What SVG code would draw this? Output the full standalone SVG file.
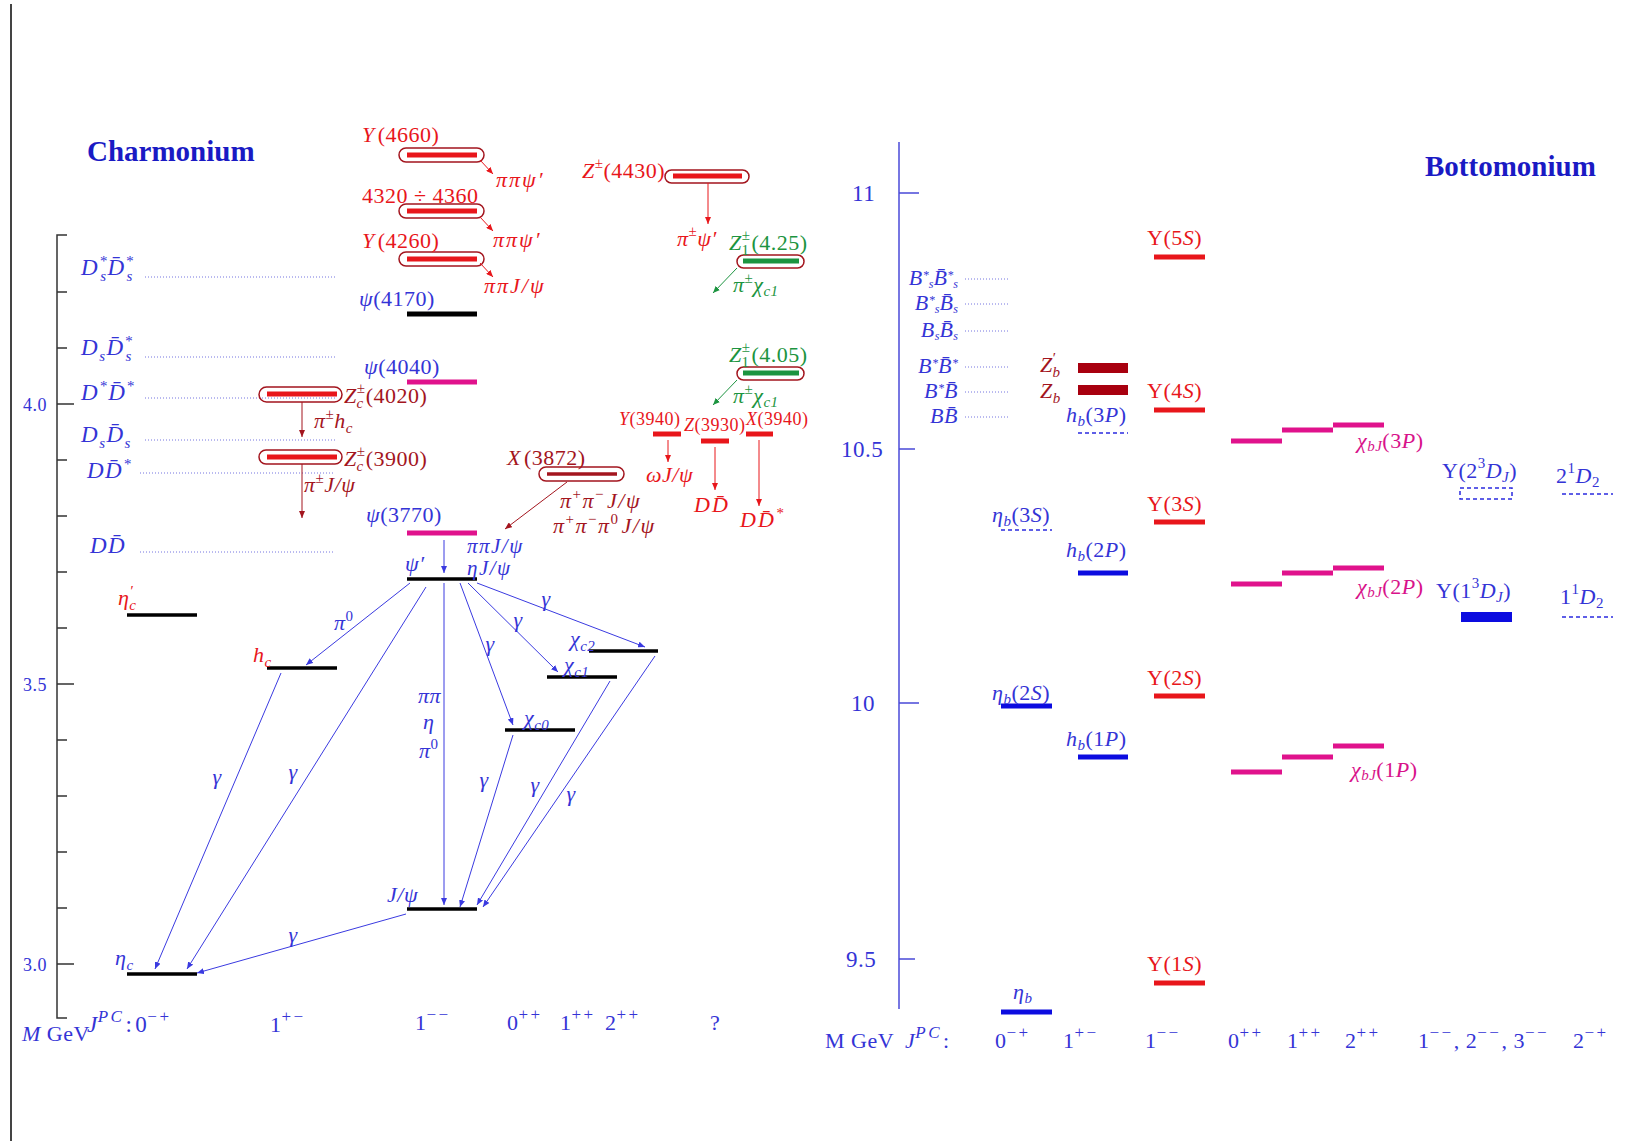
<svg xmlns="http://www.w3.org/2000/svg" width="1638" height="1141" viewBox="0 0 1638 1141">
<style>
text { font-family: "Liberation Serif", "DejaVu Serif", serif; font-size: 22px; letter-spacing: 0.5px; fill: #3434d6; }
.i { font-style: italic; }
.n { font-style: normal; }
.sm { font-size: 18px; }
.s { font-size: 15px; }
.t { font-size: 12px; letter-spacing: 0; }
.ss { font-size: 17px; letter-spacing: 2.5px; }
.ttl { font-weight: bold; font-size: 29px; letter-spacing: 0; fill: #1a1ac4; }
.ax { font-size: 18px; }
.axb { font-size: 23px; }
.red { fill: #e8161b; }
.dred { fill: #a3151e; }
.grn { fill: #1c9440; }
.mag { fill: #d8128a; }
.blk { stroke: #000; stroke-width: 3.5; }
.barR { stroke: #e8161b; stroke-width: 5; }
.barM { stroke: #e0128c; stroke-width: 5; }
.barG { stroke: #1c9440; stroke-width: 5; }
.barB { stroke: #0c0ce0; stroke-width: 5; }
.barZ { stroke: #a8000f; stroke-width: 10; }
.dash { stroke: #2a2ae0; stroke-width: 1.5; stroke-dasharray: 4 3; fill: none; }
.box { fill: none; stroke: #a3151e; stroke-width: 1.5; }
.dot { stroke: #7474e0; stroke-width: 1; stroke-dasharray: 1 2; }
.ab { stroke: #3a3ae0; stroke-width: 1; fill: none; marker-end: url(#mb); }
.ar { stroke: #e8161b; stroke-width: 1; fill: none; marker-end: url(#mr); }
.ad { stroke: #a3151e; stroke-width: 1; fill: none; marker-end: url(#md); }
.ag { stroke: #1c9440; stroke-width: 1; fill: none; marker-end: url(#mg); }
.axis { stroke: #333; stroke-width: 1.5; fill: none; }
.baxis { stroke: #4a4ad8; stroke-width: 1.5; fill: none; }
</style>
<defs>
<marker id="mb" markerUnits="userSpaceOnUse" markerWidth="8" markerHeight="6" refX="7" refY="3" orient="auto"><path d="M0,0 L7,3 L0,6 z" fill="#3a3ae0"/></marker>
<marker id="mr" markerUnits="userSpaceOnUse" markerWidth="8" markerHeight="6" refX="7" refY="3" orient="auto"><path d="M0,0 L7,3 L0,6 z" fill="#e8161b"/></marker>
<marker id="md" markerUnits="userSpaceOnUse" markerWidth="8" markerHeight="6" refX="7" refY="3" orient="auto"><path d="M0,0 L7,3 L0,6 z" fill="#a3151e"/></marker>
<marker id="mg" markerUnits="userSpaceOnUse" markerWidth="8" markerHeight="6" refX="7" refY="3" orient="auto"><path d="M0,0 L7,3 L0,6 z" fill="#1c9440"/></marker>
</defs>
<rect width="1638" height="1141" fill="#fff"/>
<line x1="11" y1="4" x2="11" y2="1141" stroke="#444" stroke-width="2"/>

<!-- ============ CHARMONIUM ============ -->
<g id="charm-axis">
<polyline class="axis" points="67,235 57,235 57,1018 67,1018"/>
<path class="axis" d="M57,292H67M57,348H67M57,404H74M57,460H67M57,516H67M57,572H67M57,628H67M57,684H74M57,740H67M57,796H67M57,852H67M57,908H67M57,964H74"/>
<text class="ax" x="23" y="411">4.0</text>
<text class="ax" x="23" y="691">3.5</text>
<text class="ax" x="23" y="971">3.0</text>
<text class="ttl" x="87" y="161">Charmonium</text>
<text x="22" y="1041"><tspan class="i">M</tspan> GeV</text>
<text x="87" y="1032" style="font-size:23px"><tspan class="i">J</tspan><tspan class="ss i" dy="-10">PC</tspan><tspan dy="10" dx="1">:</tspan><tspan dx="3">0</tspan><tspan class="ss" dy="-10">−+</tspan></text>
<text x="270" y="1032">1<tspan class="ss" dy="-10">+−</tspan></text>
<text x="415" y="1030">1<tspan class="ss" dy="-10">−−</tspan></text>
<text x="507" y="1030">0<tspan class="ss" dy="-10">++</tspan></text>
<text x="560" y="1030">1<tspan class="ss" dy="-10">++</tspan></text>
<text x="605" y="1030">2<tspan class="ss" dy="-10">++</tspan></text>
<text x="710" y="1030">?</text>
</g>

<g id="charm-thresholds">
<path class="dot" d="M145,277H335M145,357H335M145,398H335M145,440H335M140,473H335M140,552H335"/>
<text class="i" x="81" y="275" style="font-size:23px;letter-spacing:1.5px">D<tspan class="s" dy="-9">*</tspan><tspan class="s" dx="-8" dy="15">s</tspan><tspan dy="-6">D̄</tspan><tspan class="s" dy="-9">*</tspan><tspan class="s" dx="-8" dy="15">s</tspan></text>
<text class="i" x="81" y="355" style="font-size:23px;letter-spacing:1.5px">D<tspan class="s" dy="6">s</tspan><tspan dy="-6">D̄</tspan><tspan class="s" dy="-9">*</tspan><tspan class="s" dx="-8" dy="15">s</tspan></text>
<text class="i" x="81" y="400" style="font-size:23px;letter-spacing:1.5px">D<tspan class="s" dy="-9">*</tspan><tspan dy="9">D̄</tspan><tspan class="s" dy="-9">*</tspan></text>
<text class="i" x="81" y="442" style="font-size:23px;letter-spacing:1.5px">D<tspan class="s" dy="6">s</tspan><tspan dy="-6">D̄</tspan><tspan class="s" dy="6">s</tspan></text>
<text class="i" x="87" y="478" style="font-size:23px;letter-spacing:1.5px">DD̄<tspan class="s" dy="-9">*</tspan></text>
<text class="i" x="90" y="553" style="font-size:23px;letter-spacing:1.5px">DD̄</text>
</g>

<g id="charm-levels">
<g id="etac"><line class="blk" x1="127" y1="974" x2="197" y2="974"/><text class="i" x="115" y="965">η<tspan class="s" dy="5">c</tspan></text></g>
<g id="etac2"><line class="blk" x1="127" y1="615" x2="197" y2="615"/><text class="i red" x="118" y="605">η<tspan class="s" dy="-9">′</tspan><tspan class="s" dx="-4" dy="14">c</tspan></text></g>
<g id="hc"><line class="blk" x1="267" y1="668" x2="337" y2="668"/><text class="i red" x="253" y="662">h<tspan class="s" dy="5">c</tspan></text></g>
<g id="psi2s"><line class="blk" x1="407" y1="579" x2="477" y2="579"/><text class="i" x="405" y="571">ψ′</text></g>
<g id="jpsi"><line class="blk" x1="407" y1="909" x2="477" y2="909"/><text class="i" x="387" y="902">J/ψ</text></g>
<g id="chic0"><line class="blk" x1="505" y1="730" x2="575" y2="730"/><text class="i" x="524" y="725">χ<tspan class="s" dy="5">c0</tspan></text></g>
<g id="chic1"><line class="blk" x1="547" y1="677" x2="617" y2="677"/><text class="i" x="564" y="672">χ<tspan class="s" dy="5">c1</tspan></text></g>
<g id="chic2"><line class="blk" x1="589" y1="651" x2="658" y2="651"/><text class="i" x="570" y="646">χ<tspan class="s" dy="5">c2</tspan></text></g>
<g id="psi3770"><line class="barM" x1="407" y1="533" x2="477" y2="533"/><text x="366" y="522"><tspan class="i">ψ</tspan>(3770)</text></g>
<g id="psi4040"><line class="barM" x1="407" y1="382" x2="477" y2="382"/><text x="364" y="374"><tspan class="i">ψ</tspan>(4040)</text></g>
<g id="psi4170"><line class="blk" style="stroke-width:5" x1="407" y1="314" x2="477" y2="314"/><text x="359" y="306"><tspan class="i">ψ</tspan>(4170)</text></g>
<g id="y4260"><rect class="box" x="399" y="252" width="85" height="14" rx="7"/><line class="barR" x1="407" y1="259" x2="477" y2="259"/><text class="red" x="362" y="248"><tspan class="i">Y</tspan><tspan dx="3">(4260)</tspan></text></g>
<g id="y4320"><rect class="box" x="399" y="204" width="85" height="14" rx="7"/><line class="barR" x1="407" y1="211" x2="477" y2="211"/><text class="red" x="362" y="203">4320 ÷ 4360</text></g>
<g id="y4660"><rect class="box" x="399" y="148" width="85" height="14" rx="7"/><line class="barR" x1="407" y1="155" x2="477" y2="155"/><text class="red" x="362" y="142"><tspan class="i">Y</tspan><tspan dx="3">(4660)</tspan></text></g>
<g id="z4430"><rect class="box" x="665" y="170" width="84" height="13" rx="6.5"/><line class="barR" x1="673" y1="176" x2="742" y2="176"/><text class="red" x="582" y="178"><tspan class="i">Z</tspan><tspan class="s" dy="-10">±</tspan><tspan dy="10">(4430)</tspan></text></g>
<g id="z1-425"><rect class="box" x="737" y="255" width="67" height="13" rx="6.5"/><line class="barG" x1="743" y1="261" x2="799" y2="261"/><text class="grn" x="729" y="250"><tspan class="i">Z</tspan><tspan class="s" dy="-10">±</tspan><tspan class="s" dx="-9" dy="15">1</tspan><tspan dy="-5" dx="2">(4.25)</tspan></text></g>
<g id="z1-405"><rect class="box" x="737" y="367" width="67" height="13" rx="6.5"/><line class="barG" x1="743" y1="373" x2="799" y2="373"/><text class="grn" x="729" y="362"><tspan class="i">Z</tspan><tspan class="s" dy="-10">±</tspan><tspan class="s" dx="-9" dy="15">1</tspan><tspan dy="-5" dx="2">(4.05)</tspan></text></g>
<g id="y3940"><line class="barR" x1="653" y1="434" x2="681" y2="434"/><text class="red sm" x="619" y="425"><tspan class="i">Y</tspan>(3940)</text></g>
<g id="z3930"><line class="barR" x1="701" y1="441" x2="729" y2="441"/><text class="red sm" x="684" y="431"><tspan class="i">Z</tspan>(3930)</text></g>
<g id="x3940"><line class="barR" x1="746" y1="434" x2="773" y2="434"/><text class="red sm" x="746" y="425"><tspan class="i">X</tspan>(3940)</text></g>
<g id="x3872"><rect class="box" x="539" y="467" width="85" height="14" rx="7"/><line stroke="#a3151e" stroke-width="3.5" x1="547" y1="474" x2="617" y2="474"/><text class="dred" x="507" y="465"><tspan class="i">X</tspan><tspan dx="3">(3872)</tspan></text></g>
<g id="zc4020"><rect class="box" x="259" y="387" width="83" height="15" rx="7.5"/><line class="barR" x1="267" y1="394" x2="337" y2="394"/><text class="dred" x="344" y="403"><tspan class="i">Z</tspan><tspan class="s" dy="-10">±</tspan><tspan class="s i" dx="-9" dy="15">c</tspan><tspan dy="-5" dx="2">(4020)</tspan></text></g>
<g id="zc3900"><rect class="box" x="259" y="450" width="83" height="14" rx="7"/><line class="barR" x1="267" y1="457" x2="337" y2="457"/><text class="dred" x="344" y="466"><tspan class="i">Z</tspan><tspan class="s" dy="-10">±</tspan><tspan class="s i" dx="-9" dy="15">c</tspan><tspan dy="-5" dx="2">(3900)</tspan></text></g>
</g>

<g id="charm-connectors">
<path class="ar" d="M480,160L493,174"/>
<path class="ar" d="M480,217L493,231"/>
<path class="ar" d="M480,263L493,277"/>
<path class="ar" d="M708,183V224"/>
<path class="ar" d="M668,440V462"/>
<path class="ar" d="M715,447V490"/>
<path class="ar" d="M759,440V506"/>
<path class="ad" d="M302,402V437"/>
<path class="ad" d="M302,464V518"/>
<path class="ad" d="M567,482L505,529"/>
<path class="ag" d="M737,268L713,293"/>
<path class="ag" d="M737,380L713,405"/>
<path class="ab" d="M444,540V573"/>
<path class="ab" d="M410,583L306,665"/>
<path class="ab" d="M426,587L187,969"/>
<path class="ab" d="M281,673L155,969"/>
<path class="ab" d="M406,914L197,973"/>
<path class="ab" d="M444,583V905"/>
<path class="ab" d="M460,583L513,725"/>
<path class="ab" d="M468,583L558,672"/>
<path class="ab" d="M477,583L645,647"/>
<path class="ab" d="M513,735L460,907"/>
<path class="ab" d="M610,681L477,905"/>
<path class="ab" d="M655,656L483,907"/>
</g>

<g id="charm-labels">
<text class="i red" x="496" y="187" style="letter-spacing:2px">ππψ′</text>
<text class="i red" x="493" y="247" style="letter-spacing:2px">ππψ′</text>
<text class="i red" x="484" y="293" style="letter-spacing:2px">ππJ/ψ</text>
<text class="i red" x="677" y="246">π<tspan class="s n" dy="-10">±</tspan><tspan dy="10">ψ′</tspan></text>
<text class="i grn" x="733" y="292">π<tspan class="s n" dy="-9">±</tspan><tspan dy="9">χ</tspan><tspan class="s" dy="4">c1</tspan></text>
<text class="i grn" x="733" y="403">π<tspan class="s n" dy="-9">±</tspan><tspan dy="9">χ</tspan><tspan class="s" dy="4">c1</tspan></text>
<text class="i red" x="646" y="482">ωJ/ψ</text>
<text class="i red" x="694" y="512" style="letter-spacing:2px">DD̄</text>
<text class="i red" x="740" y="527" style="letter-spacing:2px">DD̄<tspan class="s" dy="-9">*</tspan></text>
<text class="i dred" x="560" y="508" style="letter-spacing:1.5px">π<tspan class="s n" dy="-9">+</tspan><tspan dy="9">π</tspan><tspan class="s n" dy="-9">−</tspan><tspan dy="9" dx="2">J/ψ</tspan></text>
<text class="i dred" x="553" y="533" style="letter-spacing:1.5px">π<tspan class="s n" dy="-9">+</tspan><tspan dy="9">π</tspan><tspan class="s n" dy="-9">−</tspan><tspan dy="9">π</tspan><tspan class="s n" dy="-9">0</tspan><tspan dy="9" dx="2">J/ψ</tspan></text>
<text class="i" x="467" y="553" style="font-size:21px;letter-spacing:1.5px">ππJ/ψ</text>
<text class="i" x="467" y="575" style="font-size:21px;letter-spacing:1.5px">ηJ/ψ</text>
<text class="i dred" x="314" y="428">π<tspan class="s n" dy="-9">±</tspan><tspan dy="9">h</tspan><tspan class="s" dy="5">c</tspan></text>
<text class="i dred" x="304" y="492">π<tspan class="s n" dy="-9">±</tspan><tspan dy="9">J/ψ</tspan></text>
<text class="i" x="334" y="630">π<tspan class="s n" dy="-9">0</tspan></text>
<text class="i" x="418" y="703">ππ</text>
<text class="i" x="423" y="729">η</text>
<text class="i" x="419" y="758">π<tspan class="s n" dy="-9">0</tspan></text>
<g class="i" text-anchor="middle">
<text x="217" y="784">γ</text>
<text x="293" y="779">γ</text>
<text x="293" y="942">γ</text>
<text x="546" y="606">γ</text>
<text x="518" y="627">γ</text>
<text x="490" y="651">γ</text>
<text x="484" y="787">γ</text>
<text x="535" y="792">γ</text>
<text x="571" y="801">γ</text>
</g>
</g>

<!-- ============ BOTTOMONIUM ============ -->
<g id="bottom-axis">
<line class="baxis" x1="899" y1="142" x2="899" y2="1009"/>
<path class="baxis" d="M899,193H919M899,449H915M899,703H919M899,959H915"/>
<text class="axb" x="852" y="201">11</text>
<text class="axb" x="841" y="457">10.5</text>
<text class="axb" x="851" y="711">10</text>
<text class="axb" x="846" y="967">9.5</text>
<text class="ttl" x="1425" y="176">Bottomonium</text>
<g class="axb">
<text x="825" y="1048">M GeV</text>
<text x="905" y="1048"><tspan class="i">J</tspan><tspan class="ss i" dy="-10">PC</tspan><tspan dy="10" dx="1">:</tspan></text>
<text x="995" y="1048">0<tspan class="ss" dy="-10">−+</tspan></text>
<text x="1063" y="1048">1<tspan class="ss" dy="-10">+−</tspan></text>
<text x="1145" y="1048">1<tspan class="ss" dy="-10">−−</tspan></text>
<text x="1228" y="1048">0<tspan class="ss" dy="-10">++</tspan></text>
<text x="1287" y="1048">1<tspan class="ss" dy="-10">++</tspan></text>
<text x="1345" y="1048">2<tspan class="ss" dy="-10">++</tspan></text>
<text x="1418" y="1048">1<tspan class="ss" dy="-10">−−</tspan><tspan dy="10">, 2</tspan><tspan class="ss" dy="-10">−−</tspan><tspan dy="10">, 3</tspan><tspan class="ss" dy="-10">−−</tspan></text>
<text x="1573" y="1048">2<tspan class="ss" dy="-10">−+</tspan></text>
</g>
</g>

<g id="bottom-thresholds">
<path class="dot" d="M965,279H1008M965,304H1008M965,331H1008M965,367H1008M965,392H1008M965,417H1008"/>
<g class="i" text-anchor="end" style="font-size:18px;letter-spacing:0.5px">
<text x="958" y="285">B<tspan class="t" dy="-6">*</tspan><tspan class="t" dy="9">s</tspan><tspan dy="-3">B̄</tspan><tspan class="t" dy="-6">*</tspan><tspan class="t" dy="9">s</tspan></text>
<text x="958" y="310">B<tspan class="t" dy="-6">*</tspan><tspan class="t" dy="9">s</tspan><tspan dy="-3">B̄</tspan><tspan class="t" dy="3">s</tspan></text>
<text x="958" y="337">B<tspan class="t" dy="3">s</tspan><tspan dy="-3">B̄</tspan><tspan class="t" dy="3">s</tspan></text>
<text x="958" y="373">B<tspan class="t" dy="-6">*</tspan><tspan dy="6">B̄</tspan><tspan class="t" dy="-6">*</tspan></text>
<text x="958" y="398">B<tspan class="t" dy="-6">*</tspan><tspan dy="6">B̄</tspan></text>
<text x="958" y="423">BB̄</text>
</g>
</g>

<g id="bottom-levels">
<g id="zbp"><line class="barZ" x1="1078" y1="368" x2="1128" y2="368"/><text class="i dred" x="1040" y="372">Z<tspan class="s n" dy="-9">′</tspan><tspan class="s" dx="-4" dy="14">b</tspan></text></g>
<g id="zb"><line class="barZ" x1="1078" y1="390" x2="1128" y2="390"/><text class="i dred" x="1040" y="398">Z<tspan class="s" dy="5">b</tspan></text></g>
<g id="hb3p"><line class="dash" x1="1078" y1="433" x2="1128" y2="433"/><text x="1066" y="422"><tspan class="i">h</tspan><tspan class="s i" dy="4">b</tspan><tspan dy="-4">(3</tspan><tspan class="i">P</tspan>)</text></g>
<g id="hb2p"><line class="barB" x1="1078" y1="573" x2="1128" y2="573"/><text x="1066" y="557"><tspan class="i">h</tspan><tspan class="s i" dy="4">b</tspan><tspan dy="-4">(2</tspan><tspan class="i">P</tspan>)</text></g>
<g id="hb1p"><line class="barB" x1="1078" y1="757" x2="1128" y2="757"/><text x="1066" y="746"><tspan class="i">h</tspan><tspan class="s i" dy="4">b</tspan><tspan dy="-4">(1</tspan><tspan class="i">P</tspan>)</text></g>
<g id="etab3s"><line class="dash" x1="1001" y1="530" x2="1052" y2="530"/><text x="992" y="522"><tspan class="i">η</tspan><tspan class="s i" dy="4">b</tspan><tspan dy="-4">(3</tspan><tspan class="i">S</tspan>)</text></g>
<g id="etab2s"><line class="barB" x1="1001" y1="706" x2="1052" y2="706"/><text x="992" y="700"><tspan class="i">η</tspan><tspan class="s i" dy="4">b</tspan><tspan dy="-4">(2</tspan><tspan class="i">S</tspan>)</text></g>
<g id="etab"><line class="barB" x1="1001" y1="1012" x2="1052" y2="1012"/><text class="i" x="1013" y="999">η<tspan class="s" dy="4">b</tspan></text></g>
<g id="ups5s"><line class="barR" x1="1154" y1="257" x2="1205" y2="257"/><text class="red" x="1147" y="245">Υ(5<tspan class="i">S</tspan>)</text></g>
<g id="ups4s"><line class="barR" x1="1154" y1="410" x2="1205" y2="410"/><text class="red" x="1147" y="398">Υ(4<tspan class="i">S</tspan>)</text></g>
<g id="ups3s"><line class="barR" x1="1154" y1="522" x2="1205" y2="522"/><text class="red" x="1147" y="511">Υ(3<tspan class="i">S</tspan>)</text></g>
<g id="ups2s"><line class="barR" x1="1154" y1="696" x2="1205" y2="696"/><text class="red" x="1147" y="685">Υ(2<tspan class="i">S</tspan>)</text></g>
<g id="ups1s"><line class="barR" x1="1154" y1="983" x2="1205" y2="983"/><text class="red" x="1147" y="971">Υ(1<tspan class="i">S</tspan>)</text></g>
<g id="chib3p"><path class="barM" d="M1231,441H1282M1282,430H1333M1333,425H1384"/><text class="mag" x="1357" y="448"><tspan class="i">χ</tspan><tspan class="s i" dy="3">bJ</tspan><tspan dy="-3">(3</tspan><tspan class="i">P</tspan>)</text></g>
<g id="chib2p"><path class="barM" d="M1231,584H1282M1282,573H1333M1333,568H1384"/><text class="mag" x="1357" y="594"><tspan class="i">χ</tspan><tspan class="s i" dy="3">bJ</tspan><tspan dy="-3">(2</tspan><tspan class="i">P</tspan>)</text></g>
<g id="chib1p"><path class="barM" d="M1231,772H1282M1282,757H1333M1333,746H1384"/><text class="mag" x="1351" y="777"><tspan class="i">χ</tspan><tspan class="s i" dy="3">bJ</tspan><tspan dy="-3">(1</tspan><tspan class="i">P</tspan>)</text></g>
<g id="ups2d"><rect class="dash" x="1460" y="488" width="52" height="11"/><text x="1442" y="478">Υ(2<tspan class="s" dy="-10">3</tspan><tspan class="i" dy="10">D</tspan><tspan class="s i" dy="4">J</tspan><tspan dy="-4">)</tspan></text></g>
<g id="d21"><line class="dash" x1="1562" y1="494" x2="1613" y2="494"/><text x="1556" y="483">2<tspan class="s" dy="-10">1</tspan><tspan class="i" dy="10">D</tspan><tspan class="s" dy="4">2</tspan></text></g>
<g id="ups1d"><line stroke="#0c0ce0" stroke-width="10" x1="1461" y1="617" x2="1512" y2="617"/><text x="1436" y="598">Υ(1<tspan class="s" dy="-10">3</tspan><tspan class="i" dy="10">D</tspan><tspan class="s i" dy="4">J</tspan><tspan dy="-4">)</tspan></text></g>
<g id="d11"><line class="dash" x1="1562" y1="617" x2="1613" y2="617"/><text x="1560" y="604">1<tspan class="s" dy="-10">1</tspan><tspan class="i" dy="10">D</tspan><tspan class="s" dy="4">2</tspan></text></g>
</g>
</svg>
